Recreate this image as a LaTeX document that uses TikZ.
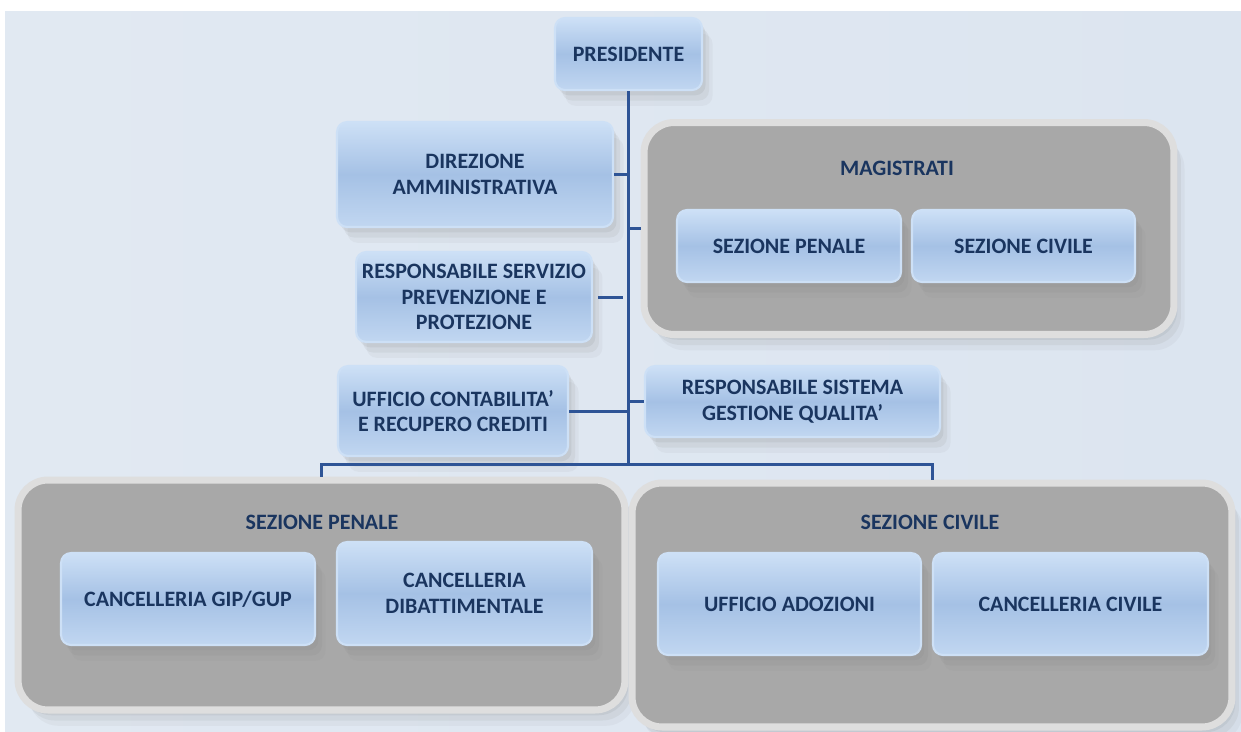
\documentclass[tikz,border=0pt]{standalone}
\usepackage{fontspec}
\setmainfont{Carlito}
\usetikzlibrary{shadows}
\definecolor{bgblue}{HTML}{DCE5F0}
\definecolor{boxblue}{HTML}{A5C1E5}
\definecolor{boxlight}{HTML}{CDE0F6}
\definecolor{txtnavy}{HTML}{1A355F}
\definecolor{linkblue}{HTML}{2E5496}
\definecolor{grpgray}{HTML}{A8A8A8}
\definecolor{grprim}{HTML}{DEDEDE}
\tikzstyle{soft}=[drop shadow={shadow xshift=2pt,shadow yshift=-3pt,opacity=.12},drop shadow={shadow xshift=4pt,shadow yshift=-6pt,opacity=.10},drop shadow={shadow xshift=6pt,shadow yshift=-9pt,opacity=.07}]
\tikzstyle{box}=[rectangle,rounded corners=0.2cm,draw=boxlight,line width=1.2pt,top color=boxlight,bottom color=boxlight!70!boxblue,middle color=boxblue,text=txtnavy,align=center,font=\bfseries\fontsize{12.5}{14.5}\selectfont,soft]
\tikzstyle{group}=[rectangle,rounded corners=0.6cm,draw=grprim,line width=4pt,fill=grpgray,soft]
\tikzstyle{title}=[text=txtnavy,font=\bfseries\fontsize{12.5}{14.5}\selectfont,inner sep=0]
\tikzstyle{link} = [linkblue,line width=1.7pt]

\begin{document}
\begin{tikzpicture}[x=0.02cm,y=-0.02cm]
\useasboundingbox (0,0) rectangle (1241,731);
\fill[left color=bgblue!85!white,right color=bgblue] (5,11) rectangle (1241,731);

% top of the chart
\draw (628.5,54) node[box,minimum width=2.94cm,minimum height=1.44cm] (pres) {PRESIDENTE};
\draw (475,174.5) node[box,minimum width=5.52cm,minimum height=2.1cm] (dir) {DIREZIONE\\AMMINISTRATIVA};
\draw (474,297) node[box,minimum width=4.6cm,minimum height=1.8cm] (rspp) {RESPONSABILE SERVIZIO\\PREVENZIONE E\\PROTEZIONE};
\draw (453,411) node[box,minimum width=4.6cm,minimum height=1.8cm] (ucont) {UFFICIO CONTABILITA'\\E RECUPERO CREDITI};
\draw (792.5,401.5) node[box,minimum width=5.9cm,minimum height=1.42cm] (rsgq) {RESPONSABILE SISTEMA\\GESTIONE QUALITA'};

% magistrati
\draw (909,228.5) node[group,minimum width=10.6cm,minimum height=4.24cm] (mag) {};
\draw (897,168) node[title] (magT) {MAGISTRATI};
\draw (789,246) node[box,minimum width=4.48cm,minimum height=1.44cm] (magPen) {SEZIONE PENALE};
\draw (1023.5,246) node[box,minimum width=4.46cm,minimum height=1.44cm] (magCiv) {SEZIONE CIVILE};

% sezioni
\draw (321.5,595) node[group,minimum width=12.14cm,minimum height=4.6cm] (grpPen) {};
\draw (322,522) node[title] (penT) {SEZIONE PENALE};
\draw (188,599) node[box,minimum width=5.08cm,minimum height=1.84cm] (gip) {CANCELLERIA GIP/GUP};
\draw (464.5,593.5) node[box,minimum width=5.1cm,minimum height=2.06cm] (dib) {CANCELLERIA\\DIBATTIMENTALE};

\draw (932,605) node[group,minimum width=12cm,minimum height=4.88cm] (grpCiv) {};
\draw (930,522) node[title] (civT) {SEZIONE CIVILE};
\draw (789.5,604) node[box,minimum width=5.26cm,minimum height=2.04cm] (adoz) {UFFICIO ADOZIONI};
\draw (1070.5,604) node[box,minimum width=5.5cm,minimum height=2.04cm] (canc) {CANCELLERIA CIVILE};

% lines
\coordinate (bus) at (628.5,464);
\draw[link] (pres.south) -- (bus);
\draw[link] (dir.east) -- (dir.east -| bus);
\draw[link] (mag.west) -- (mag.west -| bus);
\draw[link,shorten <=3pt,shorten >=3pt] (rspp.east) -- (rspp.east -| bus);
\draw[link] (rsgq.west) -- (rsgq.west -| bus);
\draw[link] (ucont.east) -- (ucont.east -| bus);
\draw[link] (grpPen.north) |- (bus) -| (grpCiv.north);
\end{tikzpicture}
\end{document}
